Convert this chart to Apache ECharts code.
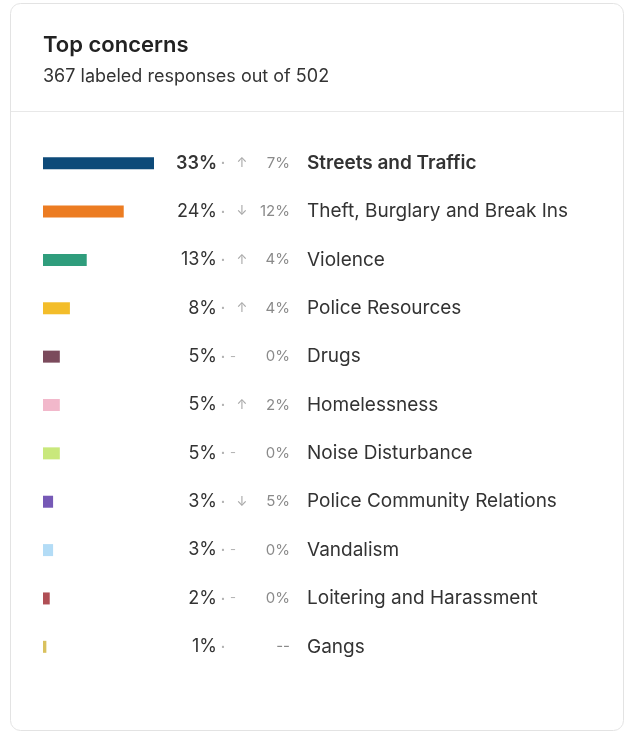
<!DOCTYPE html>
<html>
<head>
<meta charset="utf-8">
<script src="https://cdn.jsdelivr.net/npm/echarts@6/dist/echarts.min.js"></script>
<style>
  html, body { margin: 0; padding: 0; background: #fff; }
  #chart { width: 629px; height: 734px; }
</style>
</head>
<body>
<div id="chart"></div>
<script>
// concerns, top to bottom
const categories = ['Streets and Traffic', 'Theft, Burglary and Break Ins', 'Violence', 'Police Resources', 'Drugs',
  'Homelessness', 'Noise Disturbance', 'Police Community Relations', 'Vandalism', 'Loitering and Harassment', 'Gangs']
const shares = [33, 24, 13, 8, 5, 5, 5, 3, 3, 2, 1]
// change vs previous period: 'up' / 'down' / 'flat' / null (no data)
const trend = ['up', 'down', 'up', 'up', 'flat', 'up', 'flat', 'down', 'flat', 'flat', null]
const changes = ['7%', '12%', '4%', '4%', '0%', '2%', '0%', '5%', '0%', '0%', '--']
const barColors = ['#0d4a79', '#ec7c22', '#2f9d7c', '#f3bd2a', '#7b4a5c', '#f2b8cb', '#c9e87c',
  '#7659b6', '#b3dcf6', '#b04f55', '#d9c15e']

const fontFamily = 'Inter, "Noto Sans", sans-serif'
const barRight = 154 // grid left + width

const chart = echarts.init(document.getElementById('chart'))

// one category axis per text column, all sitting on the right edge of the bars
function textColumn(x, align, formatter, style) {
  return {
    type: 'category',
    data: categories,
    inverse: true,
    position: 'right',
    axisLine: { show: false },
    axisTick: { show: false },
    axisLabel: Object.assign({
      margin: x - barRight,
      interval: 0,
      align: align,
      fontFamily,
      formatter: formatter,
      rich: {
        b: Object.assign({}, style, { fontFamily, fontWeight: 600 })
      }
    }, style)
  }
}

const option = {
  animation: false,
  title: {
    text: 'Top concerns',
    subtext: '367 labeled responses out of 502',
    left: 38,
    top: 28,
    itemGap: 9,
    textStyle: { fontFamily, fontSize: 22, fontWeight: 600, color: '#222', lineHeight: 24 },
    subtextStyle: { fontFamily, fontSize: 18, color: '#333', lineHeight: 22 }
  },
  graphic: [
    {
      type: 'rect', z: -10,
      shape: { x: 10.5, y: 3.5, width: 613, height: 727, r: 10 },
      style: { fill: '#fff', stroke: '#e3e3e3', lineWidth: 1 }
    },
    {
      type: 'line', z: -9,
      shape: { x1: 11, y1: 111.5, x2: 623, y2: 111.5 },
      style: { stroke: '#e8e8e8', lineWidth: 1 }
    }
  ],
  grid: { left: 43, top: 139, width: 111, height: 532 },
  xAxis: {
    type: 'value', min: 0, max: 33,
    show: false
  },
  yAxis: [
    // share
    textColumn(217, 'right', (v, i) => i === 0 ? '{b|' + shares[i] + '%}' : shares[i] + '%',
      { fontSize: 18, color: '#333' }),
    // separator dot
    textColumn(223, 'center', () => '•', { fontSize: 7, color: '#b0b0b0' }),
    // trend arrow
    textColumn(242, 'center', (v, i) => trend[i] === 'up' ? '↑' : trend[i] === 'down' ? '↓' : '',
      { fontSize: 13, color: '#a8a8a8' }),
    // flat dash
    textColumn(233, 'center', (v, i) => trend[i] === 'flat' ? '-' : '', { fontSize: 13, color: '#b5b5b5' }),
    // change
    textColumn(290, 'right', (v, i) => changes[i], { fontSize: 15, color: '#8a8a8a' }),
    // concern name
    textColumn(307, 'left', (v, i) => i === 0 ? '{b|' + v + '}' : v, { fontSize: 19, color: '#333' })
  ],
  series: [{
    type: 'bar',
    barWidth: 12,
    yAxisIndex: 0,
    data: shares.map((v, i) => ({ value: v, itemStyle: { color: barColors[i] } }))
  }]
}

chart.setOption(option)
window.onresize = chart.resize
</script>
</body>
</html>
